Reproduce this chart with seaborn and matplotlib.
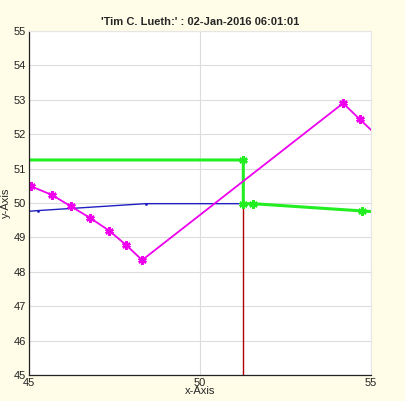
import pandas as pd
import matplotlib
matplotlib.use("Agg")
import matplotlib.pyplot as plt
import seaborn as sns

# --- DATA
mag_x = [44.6, 45.05, 45.68, 46.23, 46.78, 47.34, 47.85, 48.31, 54.19, 54.68, 55.3]
mag_y = [50.7, 50.49, 50.23, 49.90, 49.57, 49.20, 48.77, 48.34, 52.90, 52.43, 51.85]
mag_mark = [False, True, True, True, True, True, True, True, True, True, False]

blue_x = [44.0, 45.27, 48.41, 51.27]
blue_y = [49.68, 49.78, 49.98, 49.98]

green_x = [44.0, 51.27, 51.27, 51.56, 54.73, 55.5]
green_y = [51.25, 51.25, 49.98, 49.98, 49.77, 49.72]
green_mark = [False, True, True, True, True, False]

red_x = [51.27, 51.27]
red_y = [49.98, 44.0]

title = "'Tim C. Lueth:' : 02-Jan-2016 06:01:01"

# --- PLOT
sns.set_style("white")
plt.rcParams['font.family'] = ['Liberation Sans', 'DejaVu Sans']
fig = plt.figure(figsize=(4.05, 4.01), dpi=100, facecolor='#fffde8')
ax = fig.add_axes([0.0716, 0.0648, 0.844, 0.858])
ax.set_facecolor('white')

ast = (6, 2, 0)
kw = dict(estimator=None, sort=False, legend=False, ax=ax)
sns.lineplot(x=red_x, y=red_y, color='#b00000', linewidth=1.0, **kw)
sns.lineplot(x=blue_x, y=blue_y, color='#2020c0', linewidth=1.0,
             marker='o', markersize=2, markeredgewidth=0, **kw)
sns.lineplot(x=green_x, y=green_y, color='#22ee22', linewidth=2.2, **kw)
sns.lineplot(x=mag_x, y=mag_y, color='#ee00ee', linewidth=1.3, **kw)

gm = [(x, y) for x, y, m in zip(green_x, green_y, green_mark) if m]
mm = [(x, y) for x, y, m in zip(mag_x, mag_y, mag_mark) if m]
ax.plot([p[0] for p in gm], [p[1] for p in gm], ls='none', marker=ast,
        ms=6, mew=1.8, color='#22ee22')
ax.plot([p[0] for p in mm], [p[1] for p in mm], ls='none', marker=ast,
        ms=6, mew=1.8, color='#ee00ee')

ax.set_xlim(45, 55)
ax.set_ylim(45, 55)
ax.set_xticks([45, 50, 55])
ax.set_yticks(range(45, 56))
ax.grid(True, color='#dcdcdc', linewidth=0.8)
ax.set_axisbelow(True)
ax.tick_params(direction='in', length=4, width=0.8, labelsize=8,
               colors='#222222', pad=2)
for s in ['left', 'bottom']:
    ax.spines[s].set_color('#222222')
    ax.spines[s].set_linewidth(0.9)
for s in ['top', 'right']:
    ax.spines[s].set_color('#e6e6e6')
    ax.spines[s].set_linewidth(0.8)

ax.set_xlabel('x-Axis', fontsize=8, labelpad=-1)
ax.set_ylabel('y-Axis', fontsize=8, labelpad=2)
ax.set_title(title, fontsize=8, fontweight='bold', pad=4)

plt.savefig("out.png", dpi=100, facecolor=fig.get_facecolor())
